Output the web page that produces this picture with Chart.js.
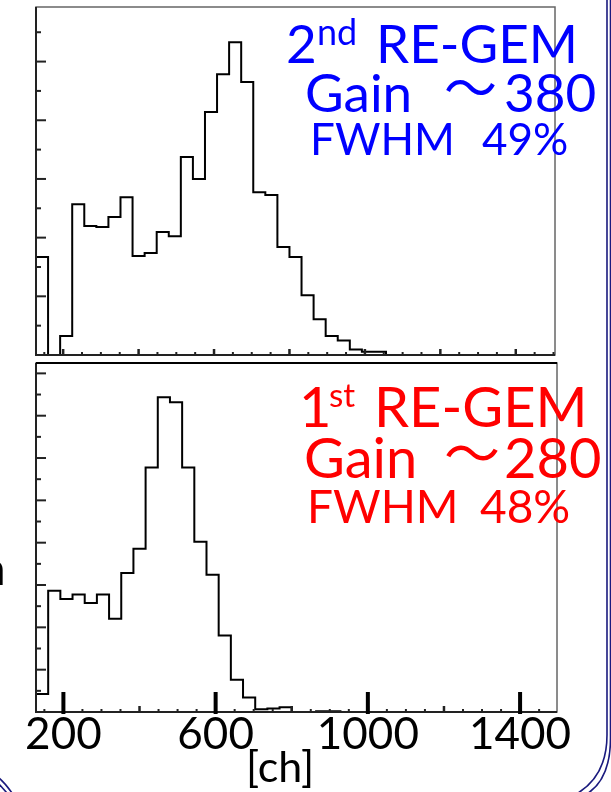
<!DOCTYPE html>
<html><head><meta charset="utf-8">
<script src="https://cdn.jsdelivr.net/npm/chart.js@4.4.1/dist/chart.umd.min.js"></script>
<style>
html,body{margin:0;padding:0;background:#fff;}
body{width:611px;height:792px;position:relative;overflow:hidden;}
#c1{position:absolute;left:0;top:0;}
#c2{position:absolute;left:0;top:360px;}
svg{position:absolute;left:0;top:0;pointer-events:none;}
svg text{font-family:Lato,'Noto Sans CJK JP',sans-serif;}
</style></head><body>
<canvas id="c1" width="611" height="360"></canvas>
<canvas id="c2" width="611" height="432"></canvas>
<svg width="611" height="792" viewBox="0 0 611 792">
  <g fill="#0000ff">
    <text x="286" y="63" font-size="53">2</text>
    <text x="317" y="45" font-size="36">nd</text>
    <text x="376" y="63" font-size="53">RE-GEM</text>
    <text x="305" y="112" font-size="53">Gain</text>
    <text x="444" y="108" font-size="53">～</text>
    <text x="504" y="112" font-size="53">380</text>
    <text x="310" y="155" font-size="44">FWHM</text>
    <text x="482" y="155" font-size="44">49%</text>
  </g>
  <g fill="#ff0000">
    <text x="299" y="427" font-size="56">1</text>
    <text x="329" y="407" font-size="33">st</text>
    <text x="374" y="427" font-size="56">RE-GEM</text>
    <text x="304" y="478" font-size="56">Gain</text>
    <text x="444" y="474" font-size="56">～</text>
    <text x="504" y="478" font-size="56">280</text>
    <text x="307" y="523" font-size="46">FWHM</text>
    <text x="480" y="523" font-size="46">48%</text>
  </g>
  <text x="246" y="782" font-size="43" fill="#000">[ch]</text>
  <text x="-20" y="585" font-size="46" fill="#000">n</text>
  <g stroke="#1a1a7e" stroke-width="1.6" fill="none">
    <path d="M607 0 V735 Q607 775 578 793"/>
    <path d="M610.5 0 V738 Q610.5 781 585 795"/>
    <path d="M-1 778 Q5 783 12 793"/>
    <path d="M-1 784 L7 793"/>
  </g>
</svg>
<script>
// Histogram bins: lower edge of each bin [ch], bin width 32 ch
const binLow = [128,160,192,224,256,288,320,352,384,416,448,480,512,544,576,608,640,672,704,736,768,800,832,864,896,928,960,992,1024,1056];
const binWidth = 32;
// 2nd RE-GEM spectrum (counts, arbitrary units)
const countsSecond = [33.4,0,6.5,51.4,44.0,43.6,47.0,53.8,33.7,34.8,41.9,40.5,67.5,60.0,82.8,95.7,106.6,93.0,55.5,54.5,36.8,33.4,20.4,12.2,6.5,4.9,1.9,1.1,1.1,0];
// 1st RE-GEM spectrum (counts, arbitrary units)
const countsFirst = [8.5,57.3,53.4,55.5,51.5,55.5,44.1,65.7,77.1,115.5,148.7,146.3,115.5,80.4,64.9,36.2,15.2,6.8,1.3,1.6,2.2,0,0,0.4,0.4,0,0,0,0,0];
// x-axis tick labels [ch]
const tickLabels = [200,600,1000,1400];

function histPoints(counts){
  const pts = [{x: binLow[0], y: 0}];
  counts.forEach((c,i) => pts.push({x: binLow[i], y: c}));
  pts.push({x: binLow[binLow.length-1] + binWidth, y: 0});
  return pts;
}

const rootFrame = {
  id: 'rootFrame',
  afterDraw(chart, args, opts) {
    const {ctx, chartArea: a} = chart;
    const x = chart.scales.x, y = chart.scales.y;
    ctx.save();
    ctx.lineCap = 'butt';
    ctx.strokeStyle = '#666'; ctx.lineWidth = 1.5;
    ctx.strokeRect(a.left, a.top, a.right - a.left, a.bottom - a.top);
    ctx.strokeStyle = '#222'; ctx.lineWidth = 2;
    ctx.beginPath();
    ctx.moveTo(a.left, a.top); ctx.lineTo(a.left, a.bottom); ctx.lineTo(a.right, a.bottom);
    ctx.stroke();
    if (opts.boldTop) {
      ctx.strokeStyle = '#000'; ctx.lineWidth = 2.2;
      ctx.beginPath(); ctx.moveTo(a.left, a.top); ctx.lineTo(a.right, a.top); ctx.stroke();
    }
    ctx.strokeStyle = '#222'; ctx.lineWidth = 2;
    for (let v = 10; v <= y.max; v += 10) {
      const py = y.getPixelForValue(v);
      const len = (v % 20 === 0) ? 10 : 5;
      ctx.beginPath(); ctx.moveTo(a.left, py); ctx.lineTo(a.left + len, py); ctx.stroke();
    }
    for (let v = 150; v <= x.max; v += 50) {
      const px = x.getPixelForValue(v);
      const major = v % 200 === 0;
      ctx.lineWidth = major ? 2.5 : 2;
      ctx.beginPath(); ctx.moveTo(px, a.bottom); ctx.lineTo(px, a.bottom - (major ? 6 : 3)); ctx.stroke();
    }
    if (opts.overlay) {
      ctx.strokeStyle = '#000'; ctx.lineWidth = 4;
      opts.overlay.forEach(v => {
        const px = x.getPixelForValue(v);
        ctx.beginPath(); ctx.moveTo(px, a.bottom + 2); ctx.lineTo(px, a.bottom - 20); ctx.stroke();
      });
    }
    ctx.restore();
  }
};

function makeChart(id, counts, xmax, ymax, padding, bottomAxis) {
  const xScale = {
    type: 'linear', min: 128, max: xmax,
    display: bottomAxis,
    grid: { display: false, drawTicks: false },
    border: { display: false },
    ticks: {
      autoSkip: false, maxRotation: 0, padding: -4,
      color: '#000',
      font: { family: 'Lato', size: 44 },
      callback: v => String(v)
    }
  };
  if (bottomAxis) {
    xScale.afterBuildTicks = s => { s.ticks = tickLabels.map(v => ({value: v})); };
    xScale.afterFit = s => { s.height = 80; };
  }
  return new Chart(document.getElementById(id), {
    type: 'line',
    data: { datasets: [{
      data: histPoints(counts),
      stepped: 'before',
      borderColor: '#000',
      borderWidth: 2,
      pointRadius: 0,
      fill: false
    }]},
    options: {
      responsive: false,
      animation: false,
      devicePixelRatio: 1,
      layout: { padding },
      plugins: {
        legend: { display: false },
        tooltip: { enabled: false },
        rootFrame: { boldTop: bottomAxis, overlay: bottomAxis ? tickLabels : null }
      },
      scales: {
        x: xScale,
        y: { min: 0, max: ymax, display: false }
      }
    },
    plugins: [rootFrame]
  });
}

makeChart('c1', countsSecond, 1504, 118.6, {left: 36, right: 56, top: 7, bottom: 5}, false);
makeChart('c2', countsFirst, 1497, 164.9, {left: 36, right: 54, top: 3, bottom: 0}, true);
</script>
</body></html>
